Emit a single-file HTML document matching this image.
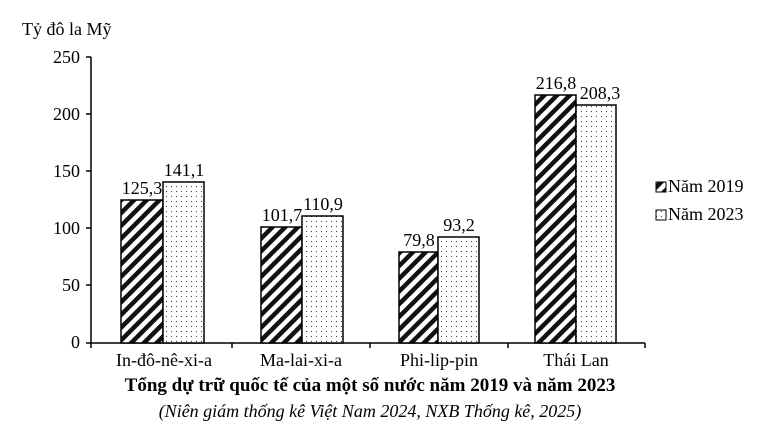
<!DOCTYPE html><html><head><meta charset="utf-8"><style>body{margin:0;background:#fff}</style></head><body>
<svg width="779" height="443" xmlns="http://www.w3.org/2000/svg" font-family="Liberation Serif, serif">
<defs>
<pattern id="h" width="9" height="9" patternUnits="userSpaceOnUse" patternTransform="rotate(45)"><rect width="9" height="9" fill="#fff"/><rect width="4.5" height="9" fill="#111"/></pattern>
<pattern id="d" width="5" height="5" patternUnits="userSpaceOnUse"><rect width="5" height="5" fill="#fff"/><circle cx="1.5" cy="1.5" r="0.6" fill="#444"/></pattern>
</defs>
<g fill="#000" font-size="18">
<text x="22" y="35">Tỷ đô la Mỹ</text>
<g text-anchor="end"><text x="80" y="63">250</text><text x="80" y="120">200</text><text x="80" y="177">150</text><text x="80" y="234">100</text><text x="80" y="291">50</text><text x="80" y="348">0</text></g>
</g>
<g stroke="#000" stroke-width="1.5" fill="none">
<path d="M91 57V343H645"/>
<path d="M86 57H91M86 114H91M86 171H91M86 228H91M86 285H91M86 343H91"/>
<path d="M91 343v5M232 343v5M370 343v5M508 343v5M645 343v5"/>
</g>
<g stroke="#000" stroke-width="1.5">
<rect x="121" y="200" width="42" height="143" fill="url(#h)"/>
<rect x="163" y="182" width="41" height="161" fill="url(#d)"/>
<rect x="261" y="227" width="41" height="116" fill="url(#h)"/>
<rect x="302" y="216" width="41" height="127" fill="url(#d)"/>
<rect x="399" y="252" width="39" height="91" fill="url(#h)"/>
<rect x="438" y="237" width="41" height="106" fill="url(#d)"/>
<rect x="535" y="95" width="41" height="248" fill="url(#h)"/>
<rect x="576" y="105" width="40" height="238" fill="url(#d)"/>
</g>
<g font-size="18" text-anchor="middle" fill="#000">
<text x="142" y="194">125,3</text><text x="184" y="176">141,1</text>
<text x="282" y="221">101,7</text><text x="323" y="210">110,9</text>
<text x="419" y="246">79,8</text><text x="459" y="231">93,2</text>
<text x="556" y="89">216,8</text><text x="600" y="99">208,3</text>
<text x="164" y="366">In-đô-nê-xi-a</text><text x="301" y="366">Ma-lai-xi-a</text>
<text x="439" y="366">Phi-lip-pin</text><text x="576" y="366">Thái Lan</text>
</g>
<rect x="656" y="182" width="10" height="10" fill="url(#h)" stroke="#000"/>
<rect x="656" y="210" width="10" height="10" fill="url(#d)" stroke="#000"/>
<g font-size="18" fill="#000"><text x="668" y="192">Năm 2019</text><text x="668" y="220">Năm 2023</text></g>
<text x="370" y="391" font-size="19" font-weight="bold" text-anchor="middle">Tổng dự trữ quốc tế của một số nước năm 2019 và năm 2023</text>
<text x="370" y="417" font-size="18" font-style="italic" text-anchor="middle">(Niên giám thống kê Việt Nam 2024, NXB Thống kê, 2025)</text>
</svg></body></html>
